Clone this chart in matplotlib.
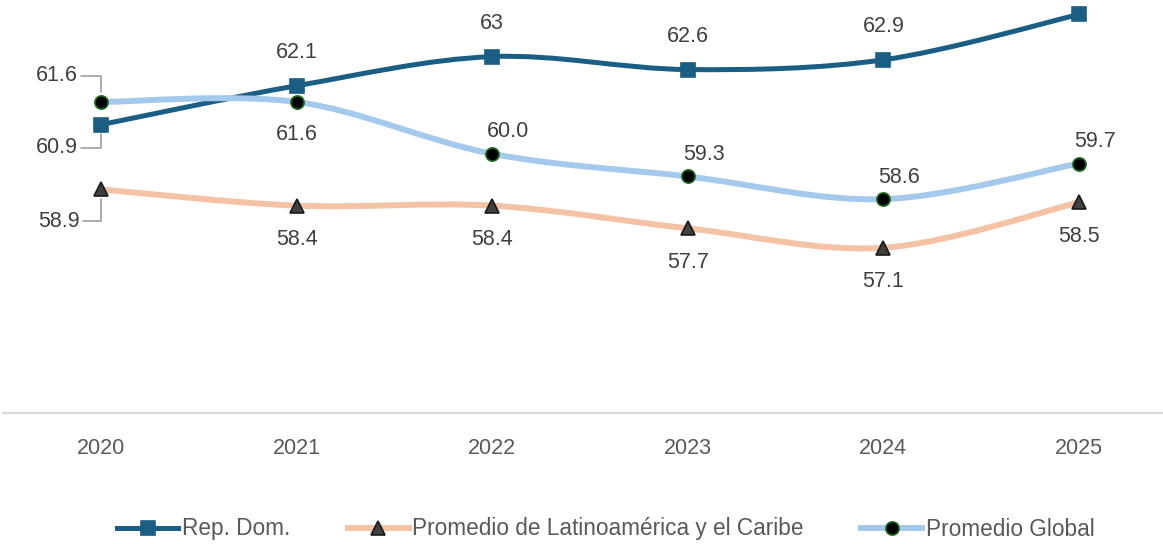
import matplotlib
matplotlib.use('Agg')
import matplotlib.pyplot as plt
from matplotlib.path import Path
from matplotlib.patches import PathPatch
from matplotlib.lines import Line2D

plt.rcParams['font.family'] = ['Liberation Sans', 'DejaVu Sans']

years = ['2020', '2021', '2022', '2023', '2024', '2025']
rep_dom = [60.9, 62.1, 63.0, 62.6, 62.9, 64.3]
latam = [58.9, 58.4, 58.4, 57.7, 57.1, 58.5]
global_avg = [61.6, 61.6, 60.0, 59.3, 58.6, 59.7]

rep_labels = ['60.9', '62.1', '63', '62.6', '62.9', None]
latam_labels = ['58.9', '58.4', '58.4', '57.7', '57.1', '58.5']
global_labels = ['61.6', '61.6', '60.0', '59.3', '58.6', '59.7']

C_REP = '#1b5e84'
C_LAT = '#f4c3a6'
C_GLO = '#a5c9ec'
TXT = '#404040'


def smooth_path(xs, ys):
    # bezier through the points, like the "smoothed line" option in spreadsheets
    n = len(xs)
    pts = list(zip(xs, ys))
    verts = [pts[0]]
    codes = [Path.MOVETO]
    for i in range(n - 1):
        p0 = pts[max(i - 1, 0)]
        p1 = pts[i]
        p2 = pts[i + 1]
        p3 = pts[min(i + 2, n - 1)]
        c1 = (p1[0] + (p2[0] - p0[0]) / 6, p1[1] + (p2[1] - p0[1]) / 6)
        c2 = (p2[0] - (p3[0] - p1[0]) / 6, p2[1] - (p3[1] - p1[1]) / 6)
        verts += [c1, c2, p2]
        codes += [Path.CURVE4] * 3
    return Path(verts, codes)


fig = plt.figure(figsize=(11.63, 5.44), dpi=100)
ax = fig.add_axes([3 / 1163, 131 / 544, 1160 / 1163, 413 / 544])

x = list(range(len(years)))
px_per_unit = 32.4
ax.set_xlim(-0.501, -0.501 + 1160 / 195.6)
ax.set_ylim(52, 52 + 413 / px_per_unit)

series = [
    (rep_dom, C_REP, 3.6, 's', C_REP, C_REP, 10, 'Rep. Dom.'),
    (latam, C_LAT, 4.3, '^', '#404040', '#1a1a1a', 10, 'Promedio de Latinoamérica y el Caribe'),
    (global_avg, C_GLO, 4.3, 'o', 'black', '#1e6b1e', 9.5, 'Promedio Global'),
]
handles = []
for vals, col, lw, mk, mfc, mec, ms, name in series:
    ax.add_patch(PathPatch(smooth_path(x, vals), facecolor='none', edgecolor=col,
                           lw=lw, capstyle='round', zorder=2))
    ax.plot(x, vals, ls='none', marker=mk, ms=ms, mfc=mfc, mec=mec, mew=1.2, zorder=4)
    handles.append(Line2D([], [], color=col, lw=lw, marker=mk, ms=ms, mfc=mfc,
                          mec=mec, mew=1.2, label=name))

# data labels
lab_kw = dict(textcoords='offset pixels', ha='center', va='center', fontsize=15.5, color=TXT)
for i in range(1, len(years)):
    if rep_labels[i]:
        ax.annotate(rep_labels[i], (x[i], rep_dom[i]), xytext=(0, 33), **lab_kw)
    ax.annotate(latam_labels[i], (x[i], latam[i]), xytext=(0, -34), **lab_kw)
    if i == 1:
        ax.annotate(global_labels[i], (x[i], global_avg[i]), xytext=(0, -33), **lab_kw)
    else:
        ax.annotate(global_labels[i], (x[i], global_avg[i]), xytext=(16, 22), **lab_kw)

# 2020 labels with leader lines
lead = dict(arrowstyle='-', color='#a6a6a6', lw=1.3, shrinkA=0, shrinkB=7,
            connectionstyle='angle,angleA=0,angleB=90,rad=0')
ax.annotate(global_labels[0], (x[0], global_avg[0]), xytext=(-44, 26), arrowprops=lead, **lab_kw)
ax.annotate(rep_labels[0], (x[0], rep_dom[0]), xytext=(-44, -23), arrowprops=lead, **lab_kw)
ax.annotate(latam_labels[0], (x[0], latam[0]), xytext=(-42, -32), arrowprops=lead, **lab_kw)

for s in ['top', 'right', 'left']:
    ax.spines[s].set_visible(False)
ax.spines['bottom'].set_color('#d9d9d9')
ax.spines['bottom'].set_linewidth(1.6)
ax.set_yticks([])
ax.set_xticks(x)
ax.set_xticklabels(years)
ax.tick_params(axis='x', length=0, pad=18, labelsize=15.5, labelcolor='#595959')

fig.legend(handles=handles, loc='center left', bbox_to_anchor=(117 / 1163, 15 / 544),
           ncol=3, frameon=False, numpoints=1, borderpad=0, borderaxespad=0,
           handlelength=2.7, handletextpad=0.15, columnspacing=2.55,
           prop={'family': ['Liberation Sans', 'DejaVu Sans'], 'size': 16.3},
           labelcolor='#595959')

fig.savefig('out.png', dpi=100)
